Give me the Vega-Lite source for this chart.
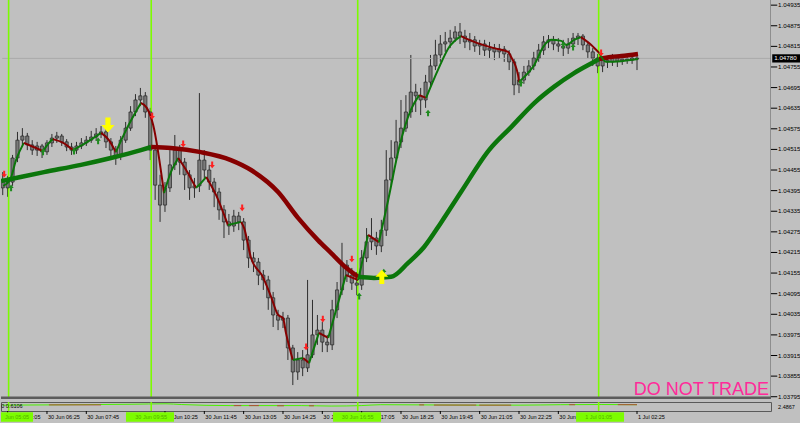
{
  "$schema": "https://vega.github.io/schema/vega-lite/v6.json",
  "background": "#c0c0c0",
  "padding": 0,
  "spacing": 1,
  "config": {"view": {"stroke": null}, "font": "Liberation Sans"},
  "datasets": {
    "candles": [
      {"t":295,"o":1.04426,"h":1.04449,"l":1.04382,"c":1.04403},
      {"t":305,"o":1.04403,"h":1.04438,"l":1.04377,"c":1.04420},
      {"t":315,"o":1.04420,"h":1.04499,"l":1.04409,"c":1.04490},
      {"t":325,"o":1.04490,"h":1.04566,"l":1.04478,"c":1.04542},
      {"t":335,"o":1.04542,"h":1.04577,"l":1.04525,"c":1.04554},
      {"t":345,"o":1.04554,"h":1.04563,"l":1.04513,"c":1.04528},
      {"t":355,"o":1.04528,"h":1.04542,"l":1.04499,"c":1.04513},
      {"t":365,"o":1.04513,"h":1.04537,"l":1.04496,"c":1.04525},
      {"t":375,"o":1.04525,"h":1.04531,"l":1.04490,"c":1.04508},
      {"t":385,"o":1.04508,"h":1.04542,"l":1.04499,"c":1.04534},
      {"t":395,"o":1.04534,"h":1.04560,"l":1.04522,"c":1.04548},
      {"t":405,"o":1.04548,"h":1.04566,"l":1.04534,"c":1.04554},
      {"t":415,"o":1.04554,"h":1.04560,"l":1.04525,"c":1.04537},
      {"t":425,"o":1.04537,"h":1.04545,"l":1.04510,"c":1.04522},
      {"t":435,"o":1.04522,"h":1.04534,"l":1.04499,"c":1.04513},
      {"t":445,"o":1.04513,"h":1.04537,"l":1.04502,"c":1.04525},
      {"t":455,"o":1.04525,"h":1.04548,"l":1.04516,"c":1.04534},
      {"t":465,"o":1.04534,"h":1.04554,"l":1.04525,"c":1.04542},
      {"t":475,"o":1.04542,"h":1.04569,"l":1.04534,"c":1.04551},
      {"t":485,"o":1.04551,"h":1.04577,"l":1.04540,"c":1.04560},
      {"t":495,"o":1.04560,"h":1.04583,"l":1.04548,"c":1.04566},
      {"t":505,"o":1.04566,"h":1.04577,"l":1.04519,"c":1.04537},
      {"t":515,"o":1.04537,"h":1.04548,"l":1.04493,"c":1.04513},
      {"t":525,"o":1.04513,"h":1.04525,"l":1.04470,"c":1.04496},
      {"t":535,"o":1.04496,"h":1.04554,"l":1.04484,"c":1.04542},
      {"t":545,"o":1.04542,"h":1.04595,"l":1.04534,"c":1.04577},
      {"t":555,"o":1.04577,"h":1.04641,"l":1.04569,"c":1.04624},
      {"t":565,"o":1.04624,"h":1.04676,"l":1.04612,"c":1.04659},
      {"t":575,"o":1.04659,"h":1.04694,"l":1.04641,"c":1.04671},
      {"t":585,"o":1.04671,"h":1.04682,"l":1.04607,"c":1.04624},
      {"t":595,"o":1.04624,"h":1.04636,"l":1.04484,"c":1.04513},
      {"t":605,"o":1.04513,"h":1.04528,"l":1.04368,"c":1.04411},
      {"t":615,"o":1.04411,"h":1.04441,"l":1.04304,"c":1.04353},
      {"t":625,"o":1.04353,"h":1.04420,"l":1.04333,"c":1.04403},
      {"t":635,"o":1.04403,"h":1.04513,"l":1.04391,"c":1.04470},
      {"t":645,"o":1.04470,"h":1.04557,"l":1.04455,"c":1.04513},
      {"t":655,"o":1.04513,"h":1.04528,"l":1.04441,"c":1.04478},
      {"t":665,"o":1.04478,"h":1.04490,"l":1.04397,"c":1.04441},
      {"t":675,"o":1.04441,"h":1.04455,"l":1.04368,"c":1.04403},
      {"t":685,"o":1.04403,"h":1.04432,"l":1.04374,"c":1.04409},
      {"t":695,"o":1.04409,"h":1.04679,"l":1.04391,"c":1.04484},
      {"t":705,"o":1.04484,"h":1.04513,"l":1.04432,"c":1.04455},
      {"t":715,"o":1.04455,"h":1.04470,"l":1.04397,"c":1.04420},
      {"t":725,"o":1.04420,"h":1.04432,"l":1.04347,"c":1.04391},
      {"t":735,"o":1.04391,"h":1.04403,"l":1.04310,"c":1.04339},
      {"t":745,"o":1.04339,"h":1.04353,"l":1.04257,"c":1.04304},
      {"t":755,"o":1.04304,"h":1.04327,"l":1.04266,"c":1.04292},
      {"t":765,"o":1.04292,"h":1.04339,"l":1.04275,"c":1.04321},
      {"t":775,"o":1.04321,"h":1.04333,"l":1.04280,"c":1.04304},
      {"t":785,"o":1.04304,"h":1.04315,"l":1.04222,"c":1.04251},
      {"t":795,"o":1.04251,"h":1.04263,"l":1.04170,"c":1.04199},
      {"t":805,"o":1.04199,"h":1.04216,"l":1.04158,"c":1.04187},
      {"t":815,"o":1.04187,"h":1.04199,"l":1.04120,"c":1.04149},
      {"t":825,"o":1.04149,"h":1.04164,"l":1.04106,"c":1.04135},
      {"t":835,"o":1.04135,"h":1.04147,"l":1.04048,"c":1.04083},
      {"t":845,"o":1.04083,"h":1.04100,"l":1.03998,"c":1.04033},
      {"t":855,"o":1.04033,"h":1.04048,"l":1.03989,"c":1.04018},
      {"t":865,"o":1.04018,"h":1.04042,"l":1.03995,"c":1.04024},
      {"t":875,"o":1.04024,"h":1.04033,"l":1.03902,"c":1.03937},
      {"t":885,"o":1.03937,"h":1.03946,"l":1.03829,"c":1.03867},
      {"t":895,"o":1.03867,"h":1.03925,"l":1.03844,"c":1.03902},
      {"t":905,"o":1.03902,"h":1.03931,"l":1.03855,"c":1.03879},
      {"t":915,"o":1.03879,"h":1.04135,"l":1.03867,"c":1.03917},
      {"t":925,"o":1.03917,"h":1.04077,"l":1.03908,"c":1.03975},
      {"t":935,"o":1.03975,"h":1.04033,"l":1.03946,"c":1.03989},
      {"t":945,"o":1.03989,"h":1.04013,"l":1.03925,"c":1.03954},
      {"t":955,"o":1.03954,"h":1.03975,"l":1.03925,"c":1.03946},
      {"t":965,"o":1.03946,"h":1.04077,"l":1.03931,"c":1.04048},
      {"t":975,"o":1.04048,"h":1.04129,"l":1.04024,"c":1.04106},
      {"t":985,"o":1.04106,"h":1.04243,"l":1.04091,"c":1.04178},
      {"t":995,"o":1.04178,"h":1.04193,"l":1.04129,"c":1.04149},
      {"t":1005,"o":1.04149,"h":1.04170,"l":1.04106,"c":1.04126},
      {"t":1015,"o":1.04126,"h":1.04158,"l":1.04091,"c":1.04120},
      {"t":1025,"o":1.04120,"h":1.04222,"l":1.04106,"c":1.04199},
      {"t":1035,"o":1.04199,"h":1.04286,"l":1.04187,"c":1.04246},
      {"t":1045,"o":1.04246,"h":1.04315,"l":1.04222,"c":1.04257},
      {"t":1055,"o":1.04257,"h":1.04275,"l":1.04208,"c":1.04234},
      {"t":1065,"o":1.04234,"h":1.04310,"l":1.04216,"c":1.04280},
      {"t":1075,"o":1.04280,"h":1.04513,"l":1.04263,"c":1.04426},
      {"t":1085,"o":1.04426,"h":1.04542,"l":1.04411,"c":1.04490},
      {"t":1095,"o":1.04490,"h":1.04601,"l":1.04478,"c":1.04537},
      {"t":1105,"o":1.04537,"h":1.04659,"l":1.04519,"c":1.04577},
      {"t":1115,"o":1.04577,"h":1.04673,"l":1.04566,"c":1.04624},
      {"t":1125,"o":1.04624,"h":1.04790,"l":1.04607,"c":1.04682},
      {"t":1135,"o":1.04682,"h":1.04706,"l":1.04624,"c":1.04671},
      {"t":1145,"o":1.04671,"h":1.04694,"l":1.04615,"c":1.04659},
      {"t":1155,"o":1.04659,"h":1.04732,"l":1.04636,"c":1.04711},
      {"t":1165,"o":1.04711,"h":1.04790,"l":1.04694,"c":1.04758},
      {"t":1175,"o":1.04758,"h":1.04834,"l":1.04746,"c":1.04790},
      {"t":1185,"o":1.04790,"h":1.04848,"l":1.04770,"c":1.04822},
      {"t":1195,"o":1.04822,"h":1.04857,"l":1.04799,"c":1.04828},
      {"t":1205,"o":1.04828,"h":1.04863,"l":1.04810,"c":1.04839},
      {"t":1215,"o":1.04839,"h":1.04874,"l":1.04828,"c":1.04857},
      {"t":1225,"o":1.04857,"h":1.04883,"l":1.04822,"c":1.04845},
      {"t":1235,"o":1.04845,"h":1.04863,"l":1.04810,"c":1.04828},
      {"t":1245,"o":1.04828,"h":1.04854,"l":1.04804,"c":1.04834},
      {"t":1255,"o":1.04834,"h":1.04845,"l":1.04799,"c":1.04816},
      {"t":1265,"o":1.04816,"h":1.04834,"l":1.04790,"c":1.04822},
      {"t":1275,"o":1.04822,"h":1.04834,"l":1.04787,"c":1.04804},
      {"t":1285,"o":1.04804,"h":1.04828,"l":1.04781,"c":1.04810},
      {"t":1295,"o":1.04810,"h":1.04822,"l":1.04775,"c":1.04799},
      {"t":1305,"o":1.04799,"h":1.04822,"l":1.04781,"c":1.04807},
      {"t":1315,"o":1.04807,"h":1.04816,"l":1.04770,"c":1.04793},
      {"t":1325,"o":1.04793,"h":1.04804,"l":1.04746,"c":1.04770},
      {"t":1335,"o":1.04770,"h":1.04781,"l":1.04673,"c":1.04703},
      {"t":1345,"o":1.04703,"h":1.04740,"l":1.04679,"c":1.04717},
      {"t":1355,"o":1.04717,"h":1.04758,"l":1.04706,"c":1.04740},
      {"t":1365,"o":1.04740,"h":1.04775,"l":1.04729,"c":1.04758},
      {"t":1375,"o":1.04758,"h":1.04799,"l":1.04746,"c":1.04781},
      {"t":1385,"o":1.04781,"h":1.04822,"l":1.04770,"c":1.04804},
      {"t":1395,"o":1.04804,"h":1.04845,"l":1.04790,"c":1.04828},
      {"t":1405,"o":1.04828,"h":1.04848,"l":1.04810,"c":1.04834},
      {"t":1415,"o":1.04834,"h":1.04845,"l":1.04804,"c":1.04822},
      {"t":1425,"o":1.04822,"h":1.04839,"l":1.04799,"c":1.04816},
      {"t":1435,"o":1.04816,"h":1.04834,"l":1.04787,"c":1.04810},
      {"t":1445,"o":1.04810,"h":1.04839,"l":1.04793,"c":1.04822},
      {"t":1455,"o":1.04822,"h":1.04854,"l":1.04810,"c":1.04839},
      {"t":1465,"o":1.04839,"h":1.04854,"l":1.04819,"c":1.04845},
      {"t":1475,"o":1.04845,"h":1.04851,"l":1.04804,"c":1.04819},
      {"t":1485,"o":1.04819,"h":1.04828,"l":1.04781,"c":1.04799},
      {"t":1495,"o":1.04799,"h":1.04810,"l":1.04758,"c":1.04781},
      {"t":1505,"o":1.04781,"h":1.04793,"l":1.04737,"c":1.04758},
      {"t":1515,"o":1.04758,"h":1.04787,"l":1.04740,"c":1.04775},
      {"t":1525,"o":1.04775,"h":1.04787,"l":1.04752,"c":1.04770},
      {"t":1535,"o":1.04770,"h":1.04793,"l":1.04758,"c":1.04781},
      {"t":1545,"o":1.04781,"h":1.04790,"l":1.04755,"c":1.04772},
      {"t":1555,"o":1.04772,"h":1.04790,"l":1.04761,"c":1.04778},
      {"t":1565,"o":1.04778,"h":1.04787,"l":1.04764,"c":1.04775},
      {"t":1575,"o":1.04775,"h":1.04790,"l":1.04764,"c":1.04781},
      {"t":1585,"o":1.04781,"h":1.04787,"l":1.04746,"c":1.04778}
    ],
    "slow": [
      {"s":"s1","d":"up","t":292,"v":1.04423},{"s":"s1","d":"up","t":312,"v":1.04429},{"s":"s1","d":"up","t":379,"v":1.04449},{"s":"s1","d":"up","t":454,"v":1.04470},{"s":"s1","d":"up","t":515,"v":1.04490},{"s":"s1","d":"up","t":576,"v":1.04513},{"s":"s1","d":"up","t":597,"v":1.04522},
      {"s":"s2","d":"down","t":597,"v":1.04522},{"s":"s2","d":"down","t":637,"v":1.04519},{"s":"s2","d":"down","t":698,"v":1.04507},{"s":"s2","d":"down","t":759,"v":1.04484},{"s":"s2","d":"down","t":800,"v":1.04455},{"s":"s2","d":"down","t":855,"v":1.04391},{"s":"s2","d":"down","t":896,"v":1.04315},{"s":"s2","d":"down","t":936,"v":1.04251},{"s":"s2","d":"down","t":963,"v":1.04213},{"s":"s2","d":"down","t":989,"v":1.04176},{"s":"s2","d":"down","t":1018,"v":1.04144},
      {"s":"s3","d":"up","t":1018,"v":1.04144},{"s":"s3","d":"up","t":1050,"v":1.04141},{"s":"s3","d":"up","t":1085,"v":1.04144},{"s":"s3","d":"up","t":1119,"v":1.04184},{"s":"s3","d":"up","t":1152,"v":1.04231},{"s":"s3","d":"up","t":1186,"v":1.04301},{"s":"s3","d":"up","t":1227,"v":1.04391},{"s":"s3","d":"up","t":1284,"v":1.04513},{"s":"s3","d":"up","t":1329,"v":1.04580},{"s":"s3","d":"up","t":1376,"v":1.04650},{"s":"s3","d":"up","t":1416,"v":1.04697},{"s":"s3","d":"up","t":1457,"v":1.04737},{"s":"s3","d":"up","t":1498,"v":1.04770},{"s":"s3","d":"up","t":1508,"v":1.04778},
      {"s":"s4","d":"down","t":1508,"v":1.04778},{"s":"s4","d":"down","t":1532,"v":1.04784},{"s":"s4","d":"down","t":1553,"v":1.04787},{"s":"s4","d":"down","t":1587,"v":1.04793}
    ],
    "fast": [
      {"s":"f1","d":"up","t":296,"v":1.04409},{"s":"f1","d":"up","t":310,"v":1.04426},{"s":"f1","d":"up","t":322,"v":1.04484},{"s":"f1","d":"up","t":338,"v":1.04534},
      {"s":"f2","d":"down","t":338,"v":1.04534},{"s":"f2","d":"down","t":353,"v":1.04525},{"s":"f2","d":"down","t":377,"v":1.04510},
      {"s":"f3","d":"up","t":377,"v":1.04510},{"s":"f3","d":"up","t":393,"v":1.04540},{"s":"f3","d":"up","t":397,"v":1.04545},
      {"s":"f4","d":"down","t":397,"v":1.04545},{"s":"f4","d":"down","t":418,"v":1.04534},{"s":"f4","d":"down","t":438,"v":1.04513},
      {"s":"f5","d":"up","t":438,"v":1.04513},{"s":"f5","d":"up","t":464,"v":1.04534},{"s":"f5","d":"up","t":495,"v":1.04563},
      {"s":"f6","d":"down","t":495,"v":1.04563},{"s":"f6","d":"down","t":511,"v":1.04542},{"s":"f6","d":"down","t":525,"v":1.04507},
      {"s":"f7","d":"up","t":525,"v":1.04507},{"s":"f7","d":"up","t":546,"v":1.04572},{"s":"f7","d":"up","t":576,"v":1.04650},
      {"s":"f8","d":"down","t":576,"v":1.04650},{"s":"f8","d":"down","t":588,"v":1.04636},{"s":"f8","d":"down","t":601,"v":1.04586},{"s":"f8","d":"down","t":623,"v":1.04388},
      {"s":"f9","d":"up","t":623,"v":1.04388},{"s":"f9","d":"up","t":637,"v":1.04449},{"s":"f9","d":"up","t":652,"v":1.04490},
      {"s":"f10","d":"down","t":652,"v":1.04490},{"s":"f10","d":"down","t":668,"v":1.04455},{"s":"f10","d":"down","t":688,"v":1.04403},
      {"s":"f11","d":"up","t":688,"v":1.04403},{"s":"f11","d":"up","t":698,"v":1.04417},{"s":"f11","d":"up","t":709,"v":1.04435},
      {"s":"f12","d":"down","t":709,"v":1.04435},{"s":"f12","d":"down","t":729,"v":1.04382},{"s":"f12","d":"down","t":753,"v":1.04295},
      {"s":"f13","d":"up","t":753,"v":1.04295},{"s":"f13","d":"up","t":780,"v":1.04304},
      {"s":"f14","d":"down","t":780,"v":1.04304},{"s":"f14","d":"down","t":786,"v":1.04286},{"s":"f14","d":"down","t":800,"v":1.04199},{"s":"f14","d":"down","t":824,"v":1.04144},{"s":"f14","d":"down","t":841,"v":1.04085},{"s":"f14","d":"down","t":855,"v":1.04033},{"s":"f14","d":"down","t":865,"v":1.04024},{"s":"f14","d":"down","t":871,"v":1.03981},{"s":"f14","d":"down","t":885,"v":1.03902},
      {"s":"f15","d":"up","t":885,"v":1.03902},{"s":"f15","d":"up","t":906,"v":1.03908},
      {"s":"f16","d":"down","t":906,"v":1.03908},{"s":"f16","d":"down","t":918,"v":1.03893},
      {"s":"f17","d":"up","t":918,"v":1.03893},{"s":"f17","d":"up","t":938,"v":1.03981},
      {"s":"f18","d":"down","t":938,"v":1.03981},{"s":"f18","d":"down","t":957,"v":1.03966},
      {"s":"f19","d":"up","t":957,"v":1.03966},{"s":"f19","d":"up","t":993,"v":1.04149},
      {"s":"f20","d":"down","t":993,"v":1.04149},{"s":"f20","d":"down","t":1018,"v":1.04135},
      {"s":"f21","d":"up","t":1018,"v":1.04135},{"s":"f21","d":"up","t":1038,"v":1.04266},
      {"s":"f22","d":"down","t":1038,"v":1.04266},{"s":"f22","d":"down","t":1060,"v":1.04245},
      {"s":"f23","d":"up","t":1060,"v":1.04245},{"s":"f23","d":"up","t":1079,"v":1.04368},{"s":"f23","d":"up","t":1101,"v":1.04519},{"s":"f23","d":"up","t":1125,"v":1.04630},{"s":"f23","d":"up","t":1142,"v":1.04673},
      {"s":"f24","d":"down","t":1142,"v":1.04673},{"s":"f24","d":"down","t":1156,"v":1.04665},
      {"s":"f25","d":"up","t":1156,"v":1.04665},{"s":"f25","d":"up","t":1180,"v":1.04746},{"s":"f25","d":"up","t":1203,"v":1.04813},{"s":"f25","d":"up","t":1227,"v":1.04845},
      {"s":"f26","d":"down","t":1227,"v":1.04845},{"s":"f26","d":"down","t":1254,"v":1.04828},{"s":"f26","d":"down","t":1294,"v":1.04810},{"s":"f26","d":"down","t":1323,"v":1.04799},{"s":"f26","d":"down","t":1329,"v":1.04784},{"s":"f26","d":"down","t":1343,"v":1.04732},{"s":"f26","d":"down","t":1345,"v":1.04711},
      {"s":"f27","d":"up","t":1345,"v":1.04711},{"s":"f27","d":"up","t":1363,"v":1.04737},{"s":"f27","d":"up","t":1376,"v":1.04761},{"s":"f27","d":"up","t":1394,"v":1.04813},{"s":"f27","d":"up","t":1410,"v":1.04834},{"s":"f27","d":"up","t":1431,"v":1.04831},{"s":"f27","d":"up","t":1441,"v":1.04819},{"s":"f27","d":"up","t":1457,"v":1.04834},{"s":"f27","d":"up","t":1471,"v":1.04842},
      {"s":"f28","d":"down","t":1471,"v":1.04842},{"s":"f28","d":"down","t":1492,"v":1.04819},{"s":"f28","d":"down","t":1508,"v":1.04796},
      {"s":"f29","d":"up","t":1508,"v":1.04796},{"s":"f29","d":"up","t":1522,"v":1.04770},{"s":"f29","d":"up","t":1553,"v":1.04772},{"s":"f29","d":"up","t":1587,"v":1.04778}
    ],
    "arrows": [
      {"k":"sell","t":298,"p":1.04443},{"k":"sell","t":599,"p":1.04612},{"k":"sell","t":662,"p":1.04531},{"k":"sell","t":721,"p":1.04470},{"k":"sell","t":782,"p":1.04345},{"k":"sell","t":912,"p":1.03940},{"k":"sell","t":946,"p":1.04021},{"k":"sell","t":1005,"p":1.04196},{"k":"sell","t":1512,"p":1.04796},
      {"k":"buy","t":312,"p":1.04403},{"k":"buy","t":377,"p":1.04508},{"k":"buy","t":440,"p":1.04510},{"k":"buy","t":489,"p":1.04540},{"k":"buy","t":1020,"p":1.04088},{"k":"buy","t":1070,"p":1.04158},{"k":"buy","t":1160,"p":1.04621},{"k":"buy","t":1349,"p":1.04708},{"k":"buy","t":1435,"p":1.04819},{"k":"buy","t":1455,"p":1.04813},
      {"k":"sigdn","t":509,"p":1.04586},
      {"k":"sigup","t":1066,"p":1.04144}
    ],
    "vlines": [{"t":307},{"t":597},{"t":1017},{"t":1507}],
    "pticks": [
      {"t":1863.8,"p":1.04935},{"t":1863.8,"p":1.04875},{"t":1863.8,"p":1.04815},{"t":1863.8,"p":1.04755},{"t":1863.8,"p":1.04695},{"t":1863.8,"p":1.04635},{"t":1863.8,"p":1.04575},{"t":1863.8,"p":1.04515},{"t":1863.8,"p":1.04455},{"t":1863.8,"p":1.04395},
      {"t":1863.8,"p":1.04335},{"t":1863.8,"p":1.04275},{"t":1863.8,"p":1.04215},{"t":1863.8,"p":1.04155},{"t":1863.8,"p":1.04095},{"t":1863.8,"p":1.04035},{"t":1863.8,"p":1.03975},{"t":1863.8,"p":1.03915},{"t":1863.8,"p":1.03855},{"t":1863.8,"p":1.03795}
    ],
    "tticks": [
      {"t":305,"label":"30 Jun 05:05"},{"t":385,"label":"30 Jun 06:25"},{"t":465,"label":"30 Jun 07:45"},
      {"t":625,"label":"30 Jun 10:25"},{"t":705,"label":"30 Jun 11:45"},{"t":785,"label":"30 Jun 13:05"},{"t":865,"label":"30 Jun 14:25"},
      {"t":945,"label":"30 Jun 15:45"},{"t":1025,"label":"30 Jun 17:05"},{"t":1105,"label":"30 Jun 18:25"},{"t":1185,"label":"30 Jun 19:45"},
      {"t":1265,"label":"30 Jun 21:05"},{"t":1345,"label":"30 Jun 22:25"},{"t":1425,"label":"30 Jun 23:45"},
      {"t":1585,"label":"1 Jul 02:25"}
    ],
    "ind": [
      {"t":295,"v":0.65},{"t":393,"v":0.68},{"t":556,"v":0.75},{"t":627,"v":0.8},{"t":658,"v":0.72},{"t":759,"v":0.6},{"t":902,"v":0.6},{"t":963,"v":0.55},{"t":1024,"v":0.6},{"t":1064,"v":0.7},{"t":1146,"v":0.68},{"t":1247,"v":0.65},{"t":1349,"v":0.65},{"t":1430,"v":0.7},{"t":1512,"v":0.72},{"t":1585,"v":0.7}
    ],
    "indred": [
      {"t1":389,"t2":495,"v":0.68},{"t1":765,"t2":780,"v":0.6},{"t1":796,"t2":816,"v":0.6},{"t1":853,"t2":867,"v":0.58},{"t1":918,"t2":928,"v":0.58},{"t1":1142,"t2":1152,"v":0.68},{"t1":1172,"t2":1258,"v":0.66},{"t1":1264,"t2":1329,"v":0.65},{"t1":1447,"t2":1459,"v":0.7},{"t1":1546,"t2":1585,"v":0.7}
    ],
    "boxes": [
      {"t1":291.5,"t2":356.6,"tm":324,"label":"Jun 05:05"},
      {"t1":545.7,"t2":643.4,"tm":597,"label":"30 Jun 09:55"},
      {"t1":966.8,"t2":1064.4,"tm":1017,"label":"30 Jun 16:55"},
      {"t1":1461,"t2":1558.6,"tm":1507,"label":"1 Jul 01:05"}
    ]
  },
  "vconcat": [
    {
      "width": 770,
      "height": 399,
      "encoding": {
        "x": {"field": "t", "type": "quantitative", "scale": {"domain": [291.5, 1857.5], "nice": false, "zero": false, "padding": 0}, "axis": null}
      },
      "layer": [
        {
          "data": {"name": "candles"},
          "mark": {"type": "rule", "color": "#2e2e2e", "strokeWidth": 1, "clip": true},
          "encoding": {
            "y": {"field": "l", "type": "quantitative", "scale": {"domain": [1.037884, 1.0495], "nice": false, "zero": false}, "axis": null},
            "y2": {"field": "h"}
          }
        },
        {
          "data": {"values": [{"t": 294, "t2": 1857.5, "p": 1.0478}]},
          "mark": {"type": "rule", "color": "#a9a9a9", "strokeWidth": 1, "clip": true},
          "encoding": {
            "x2": {"field": "t2"},
            "y": {"field": "p", "type": "quantitative", "axis": null}
          }
        },
        {
          "data": {"name": "vlines"},
          "mark": {"type": "rule", "color": "#7cfc00", "strokeWidth": 1.6, "clip": true},
          "encoding": {}
        },
        {
          "data": {"name": "candles"},
          "mark": {"type": "bar", "orient": "vertical", "width": 3.2, "fill": "#7a7a7a", "stroke": "#222222", "strokeWidth": 0.7, "clip": true},
          "encoding": {
            "y": {"field": "o", "type": "quantitative", "axis": null},
            "y2": {"field": "c"}
          }
        },
        {
          "data": {"name": "slow"},
          "mark": {"type": "line", "strokeWidth": 4.5, "interpolate": "monotone", "clip": true},
          "encoding": {
            "y": {"field": "v", "type": "quantitative", "axis": null},
            "detail": {"field": "s"},
            "color": {"field": "d", "type": "nominal", "scale": {"domain": ["up", "down"], "range": ["#0b760b", "#860000"]}, "legend": null}
          }
        },
        {
          "data": {"name": "fast"},
          "mark": {"type": "line", "strokeWidth": 2, "interpolate": "monotone", "clip": true},
          "encoding": {
            "y": {"field": "v", "type": "quantitative", "axis": null},
            "detail": {"field": "s"},
            "color": {"field": "d", "type": "nominal", "legend": null}
          }
        },
        {
          "data": {"name": "arrows"},
          "transform": [{"filter": "datum.k == 'sell'"}],
          "mark": {"type": "point", "filled": true, "shape": "M-0.3,-1L0.3,-1L0.3,0L0.8,0L0,1L-0.8,0L-0.3,0Z", "size": 45, "color": "#ff2020", "opacity": 1, "clip": true},
          "encoding": {"y": {"field": "p", "type": "quantitative", "axis": null}}
        },
        {
          "data": {"name": "arrows"},
          "transform": [{"filter": "datum.k == 'buy'"}],
          "mark": {"type": "point", "filled": true, "shape": "M-0.3,1L0.3,1L0.3,0L0.8,0L0,-1L-0.8,0L-0.3,0Z", "size": 45, "color": "#1f8a1f", "opacity": 1, "clip": true},
          "encoding": {"y": {"field": "p", "type": "quantitative", "axis": null}}
        },
        {
          "data": {"name": "arrows"},
          "transform": [{"filter": "datum.k == 'sigdn'"}],
          "mark": {"type": "point", "filled": true, "shape": "M-0.35,-1L0.35,-1L0.35,0L0.9,0L0,1L-0.9,0L-0.35,0Z", "size": 220, "color": "#ffff00", "opacity": 1, "clip": true},
          "encoding": {"y": {"field": "p", "type": "quantitative", "axis": null}}
        },
        {
          "data": {"name": "arrows"},
          "transform": [{"filter": "datum.k == 'sigup'"}],
          "mark": {"type": "point", "filled": true, "shape": "M-0.35,1L0.35,1L0.35,0L0.9,0L0,-1L-0.9,0L-0.35,0Z", "size": 200, "color": "#ffff00", "opacity": 1, "clip": true},
          "encoding": {"y": {"field": "p", "type": "quantitative", "axis": null}}
        },
        {
          "data": {"values": [{"t": 1853.5, "p": 1.038, "label": "DO NOT TRADE"}]},
          "mark": {"type": "text", "align": "right", "baseline": "alphabetic", "fontSize": 18, "font": "Liberation Sans", "color": "#ff2a9a"},
          "encoding": {"y": {"field": "p", "type": "quantitative", "axis": null}, "text": {"field": "label"}}
        },
        {
          "data": {"values": [{"t": 291.5, "t2": 1857.5, "p": 1.037957, "p2": 1.037884}]},
          "mark": {"type": "rect", "color": "#5c5c5c"},
          "encoding": {"x2": {"field": "t2"}, "y": {"field": "p", "type": "quantitative", "axis": null}, "y2": {"field": "p2"}}
        },
        {
          "data": {"values": [{"t": 1857.5}]},
          "mark": {"type": "rule", "color": "#5c5c5c", "strokeWidth": 1, "clip": true},
          "encoding": {}
        },
        {
          "data": {"name": "pticks"},
          "mark": {"type": "point", "filled": false, "shape": "M-1,0L1,0", "size": 40, "stroke": "#000000", "strokeWidth": 1, "opacity": 1},
          "encoding": {"y": {"field": "p", "type": "quantitative", "axis": null}}
        },
        {
          "data": {"name": "pticks"},
          "mark": {"type": "text", "align": "left", "baseline": "middle", "dx": 4, "fontSize": 6.2, "font": "Liberation Sans", "color": "#000000"},
          "encoding": {"y": {"field": "p", "type": "quantitative", "axis": null}, "text": {"field": "p", "type": "quantitative", "format": ".5f"}}
        },
        {
          "data": {"values": [{"t": 1860, "t2": 1918, "p": 1.04792, "p2": 1.04768}]},
          "mark": {"type": "rect", "color": "#000000"},
          "encoding": {"x2": {"field": "t2"}, "y": {"field": "p", "type": "quantitative", "axis": null}, "y2": {"field": "p2"}}
        },
        {
          "data": {"values": [{"t": 1860, "p": 1.0478, "label": "1.04780"}]},
          "mark": {"type": "text", "align": "left", "baseline": "middle", "dx": 2, "fontSize": 6.2, "font": "Liberation Sans", "color": "#ffffff"},
          "encoding": {"y": {"field": "p", "type": "quantitative", "axis": null}, "text": {"field": "label"}}
        }
      ]
    },
    {
      "width": 770,
      "height": 9,
      "view": {"stroke": "#5a5a5a", "strokeWidth": 1},
      "encoding": {
        "x": {"field": "t", "type": "quantitative", "scale": {"domain": [291.5, 1857.5], "nice": false, "zero": false, "padding": 0}, "axis": null}
      },
      "layer": [
        {
          "data": {"name": "ind"},
          "mark": {"type": "line", "color": "#4cf000", "strokeWidth": 1, "interpolate": "monotone"},
          "encoding": {"y": {"field": "v", "type": "quantitative", "scale": {"domain": [0, 1], "nice": false, "zero": false}, "axis": null}}
        },
        {
          "data": {"name": "indred"},
          "mark": {"type": "rule", "color": "#b04a3a", "strokeWidth": 1},
          "encoding": {"x": {"field": "t1", "type": "quantitative", "axis": null}, "x2": {"field": "t2"}, "y": {"field": "v", "type": "quantitative", "axis": null}}
        },
        {
          "data": {"name": "vlines"},
          "mark": {"type": "rule", "color": "#7cfc00", "strokeWidth": 1.6, "clip": true},
          "encoding": {}
        },
        {
          "data": {"name": "tticks"},
          "mark": {"type": "rule", "color": "#000000", "strokeWidth": 1},
          "encoding": {"y": {"datum": 0, "type": "quantitative", "axis": null}, "y2": {"datum": -0.33}}
        },
        {
          "data": {"name": "tticks"},
          "mark": {"type": "text", "align": "left", "baseline": "middle", "dx": 1, "fontSize": 5.5, "font": "Liberation Sans", "color": "#000000"},
          "encoding": {"y": {"datum": -0.62, "type": "quantitative", "axis": null}, "text": {"field": "label"}}
        },
        {
          "data": {"name": "boxes"},
          "mark": {"type": "rect", "color": "#7cfc00"},
          "encoding": {"x": {"field": "t1", "type": "quantitative", "axis": null}, "x2": {"field": "t2"}, "y": {"datum": -0.15, "type": "quantitative", "axis": null}, "y2": {"datum": -1.2}}
        },
        {
          "data": {"name": "boxes"},
          "mark": {"type": "text", "align": "center", "baseline": "middle", "fontSize": 5.5, "font": "Liberation Sans", "color": "#52b000"},
          "encoding": {"x": {"field": "tm", "type": "quantitative", "axis": null}, "y": {"datum": -0.68, "type": "quantitative", "axis": null}, "text": {"field": "label"}}
        },
        {
          "data": {"values": [{"t": 292, "label": "0 0.6106"}]},
          "mark": {"type": "text", "align": "left", "baseline": "middle", "fontSize": 5.5, "font": "Liberation Sans", "color": "#000000"},
          "encoding": {"y": {"datum": 0.6, "type": "quantitative", "axis": null}, "text": {"field": "label"}}
        },
        {
          "data": {"values": [{"t": 1863.8, "label": "2.4867"}]},
          "mark": {"type": "text", "align": "left", "baseline": "middle", "dx": 4, "fontSize": 5.5, "font": "Liberation Sans", "color": "#000000"},
          "encoding": {"y": {"datum": 0.5, "type": "quantitative", "axis": null}, "text": {"field": "label"}}
        }
      ]
    }
  ]
}
